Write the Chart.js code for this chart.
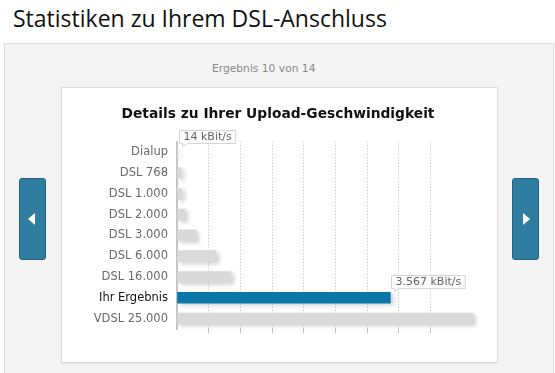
<!DOCTYPE html>
<html lang="de">
<head>
<meta charset="utf-8">
<script src="https://cdn.jsdelivr.net/npm/chart.js@4/dist/chart.umd.min.js"></script>
<style>
    body { margin: 0; width: 555px; height: 373px; overflow: hidden; background: #fff; font-family: "DejaVu Sans", Verdana, sans-serif; }
    h1 { position: absolute; left: 13px; top: 2px; margin: 0; font: normal 23px "Open Sans", sans-serif; color: #111; }
    #panel { position: absolute; left: 4px; top: 43px; width: 548px; height: 340px; background: #f4f4f4; border: 1px solid #dedede; }
    #zaehler { position: absolute; left: 212px; top: 62px; font-size: 10.7px; color: #8a8a8a; }
    #box { position: absolute; left: 61px; top: 87px; width: 435px; height: 274px; background: #fff; border: 1px solid #dcdcdc; box-shadow: 0 1px 2px rgba(0,0,0,0.06); }
    .btn { position: absolute; top: 178px; width: 25px; height: 80px; background: #2f7ea2; border: 1px solid #25627e; border-radius: 3px; }
    .btn::after { content: ""; position: absolute; top: 34px; border-top: 6px solid transparent; border-bottom: 6px solid transparent; }
    #zurueck { left: 19px; }
    #zurueck::after { left: 8px; border-right: 7px solid #fff; }
    #weiter { left: 512px; }
    #weiter::after { left: 10px; border-left: 7px solid #fff; }
    #chart { position: absolute; left: 0; top: 0; }
</style>
</head>
<body>
<h1>Statistiken zu Ihrem DSL-Anschluss</h1>
<div id="panel"></div>
<div id="zaehler">Ergebnis 10 von 14</div>
<div class="btn" id="zurueck"></div>
<div class="btn" id="weiter"></div>
<div id="box"><canvas id="chart" width="435" height="274"></canvas></div>

<script>
// ==============================
// DATEN
// ==============================
const kategorien = ["Dialup", "DSL 768", "DSL 1.000", "DSL 2.000", "DSL 3.000", "DSL 6.000", "DSL 16.000", "Ihr Ergebnis", "VDSL 25.000"];
const upload = [14, 70, 80, 130, 320, 650, 900, 3567, 4950];   // kBit/s
const markiert = ["Dialup", "Ihr Ergebnis"];
const rasterSchritt = 530;
const rasterLinien = 8;
const achseMax = 5300;

const eigenes = "Ihr Ergebnis";

function kbit(v) {
    return String(v).replace(/\B(?=(\d{3})+(?!\d))/g, ".") + " kBit/s";
}

// leichter Schatten unter den Balken
const schatten = {
    id: "schatten",
    beforeDatasetsDraw(chart) {
        const c = chart.ctx;
        c.save();
        c.shadowColor = "rgba(0,0,0,0.18)";
        c.shadowBlur = 4;
        c.shadowOffsetX = 3;
        c.shadowOffsetY = 2;
    },
    afterDatasetsDraw(chart) {
        chart.ctx.restore();
    }
};

// Wert-Fähnchen an den markierten Balken
const faehnchen = {
    id: "faehnchen",
    afterDraw(chart) {
        const c = chart.ctx;
        const meta = chart.getDatasetMeta(0);
        c.save();
        c.font = "11px 'DejaVu Sans', Verdana, sans-serif";
        markiert.forEach(name => {
            const i = kategorien.indexOf(name);
            const bar = meta.data[i];
            const text = kbit(upload[i]);
            const w = c.measureText(text).width + 8;
            const h = 13;
            const x = Math.round(bar.x) + 1.5;
            const y = Math.round(bar.y - bar.height / 2) - 3.5 - h;
            c.fillStyle = "#fbfbfb";
            c.strokeStyle = "#d2d6da";
            c.lineWidth = 1;
            c.beginPath();
            c.moveTo(x, y);
            c.lineTo(x + w, y);
            c.lineTo(x + w, y + h);
            c.lineTo(x + 8, y + h);
            c.lineTo(x + 3, y + h + 3);
            c.lineTo(x + 3, y + h);
            c.lineTo(x, y + h);
            c.closePath();
            c.fill();
            c.stroke();
            c.fillStyle = "#666";
            c.textBaseline = "middle";
            c.fillText(text, x + 4, y + h / 2 + 0.5);
        });
        c.restore();
    }
};

new Chart(document.getElementById("chart"), {
    type: "bar",
    data: {
        labels: kategorien,
        datasets: [{
            data: upload,
            backgroundColor: kategorien.map(k => k === eigenes ? "#0a77a7" : "#d9d9d9"),
            barThickness: 11,
            borderWidth: 0
        }]
    },
    options: {
        indexAxis: "y",
        responsive: false,
        animation: false,
        layout: { padding: { top: 10, right: 3, bottom: 29, left: 0 } },
        plugins: {
            legend: { display: false },
            tooltip: { enabled: false },
            title: {
                display: true,
                text: "Details zu Ihrer Upload-Geschwindigkeit",
                color: "#111",
                font: { family: "'DejaVu Sans', Verdana, sans-serif", size: 13.8, weight: "bold" },
                padding: { top: 8, bottom: 19.2 }
            }
        },
        scales: {
            x: {
                min: 0,
                max: achseMax,
                ticks: { display: false, stepSize: rasterSchritt },
                grid: {
                    color: ctx => (ctx.index >= 1 && ctx.index <= rasterLinien) ? "#bdbdbd" : "rgba(0,0,0,0)",
                    tickLength: 4,
                    lineWidth: 1
                },
                border: { display: false, dash: [1, 2] },
                afterFit: s => { s.height = 4; }
            },
            y: {
                grid: { display: false, drawTicks: false },
                border: { display: true, color: "#c4c4c4", width: 2 },
                ticks: {
                    padding: 9,
                    color: ctx => ctx.tick && ctx.tick.label === eigenes ? "#111" : "#6a6a6a",
                    font: { family: "'DejaVu Sans', Verdana, sans-serif", size: 11.5 }
                },
                afterFit: s => { s.width = 115; }
            }
        }
    },
    plugins: [schatten, faehnchen]
});
</script>
</body>
</html>
